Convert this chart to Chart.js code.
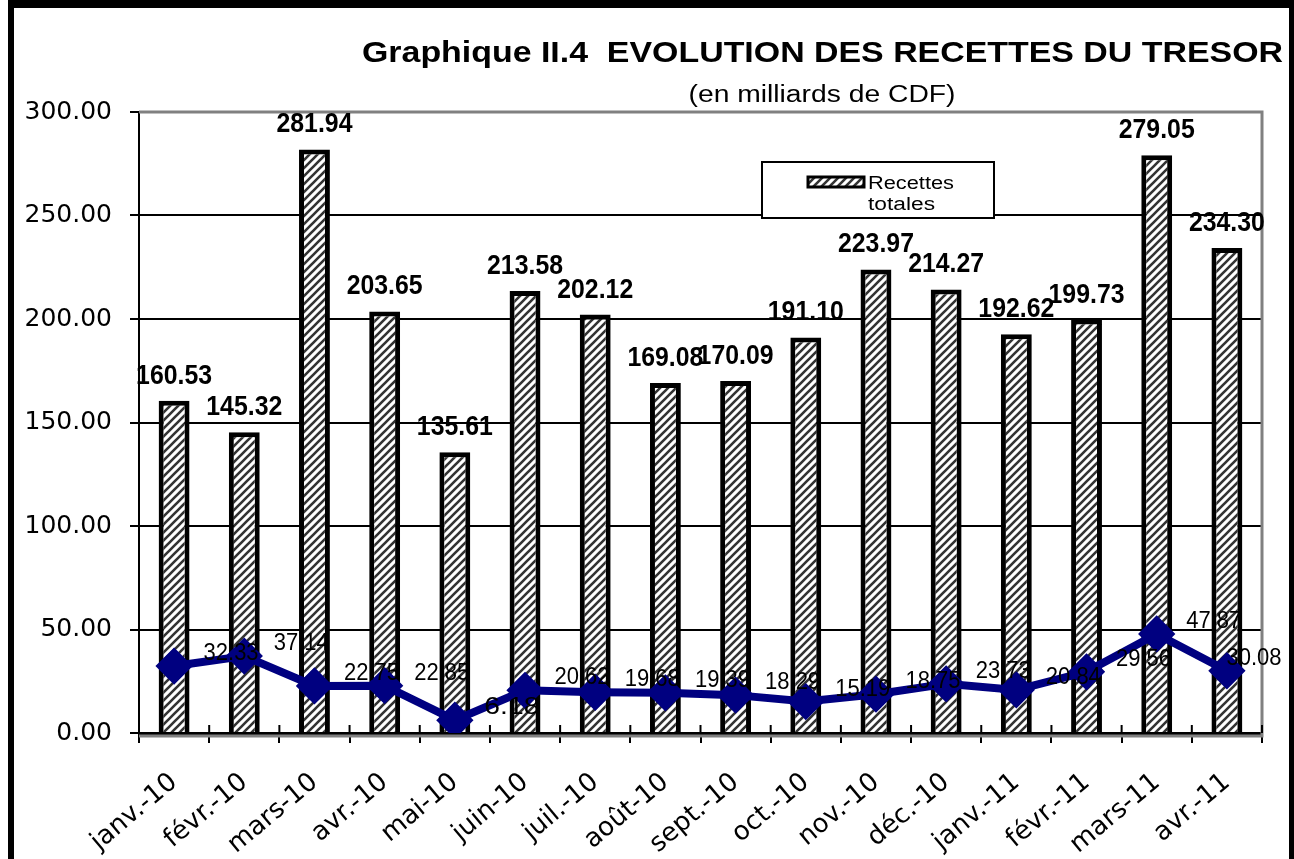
<!DOCTYPE html>
<html>
<head>
<meta charset="utf-8">
<script src="https://cdn.jsdelivr.net/npm/chart.js@4.4.1/dist/chart.umd.min.js"></script>
<style>
  html, body { margin: 0; padding: 0; background: #fff; }
  #wrap { width: 1294px; height: 859px; position: relative; }
</style>
</head>
<body>
<div id="wrap"><canvas id="chart"></canvas></div>
<script>
// données
const mois = ['janv.-10', 'févr.-10', 'mars-10', 'avr.-10', 'mai-10', 'juin-10', 'juil.-10', 'août-10',
              'sept.-10', 'oct.-10', 'nov.-10', 'déc.-10', 'janv.-11', 'févr.-11', 'mars-11', 'avr.-11'];
const recettesTotales = [160.53, 145.32, 281.94, 203.65, 135.61, 213.58, 202.12, 169.08,
                         170.09, 191.10, 223.97, 214.27, 192.62, 199.73, 279.05, 234.30];
const serieLigne = [32.33, 37.14, 22.75, 22.85, 6.18, 20.62, 19.68, 19.39,
                    18.29, 15.19, 18.75, 23.73, 20.84, 29.56, 47.87, 30.08];
const yMin = 0, yMax = 300, yPas = 50;

const titre = 'Graphique II.4  EVOLUTION DES RECETTES DU TRESOR';
const sousTitre = '(en milliards de CDF)';
const legendeTexte = ['Recettes', 'totales'];

// motif hachuré des barres
function hachures() {
    const c = document.createElement('canvas');
    c.width = 8; c.height = 8;
    const g = c.getContext('2d');
    g.fillStyle = '#fff';
    g.fillRect(0, 0, 8, 8);
    g.strokeStyle = '#333';
    g.lineWidth = 2.6;
    g.beginPath();
    g.moveTo(-2, 10); g.lineTo(10, -2);
    g.moveTo(-2, 2); g.lineTo(2, -2);
    g.moveTo(6, 10); g.lineTo(10, 6);
    g.stroke();
    return g.createPattern(c, 'repeat');
}
const motif = hachures();

// texte ajusté à une largeur donnée
function texteLargeur(ctx, txt, x, y, font, largeur, align) {
    ctx.save();
    ctx.font = font;
    const w = ctx.measureText(txt).width;
    const s = largeur ? largeur / w : 1;
    ctx.textBaseline = 'alphabetic';
    ctx.textAlign = 'left';
    let x0 = x;
    if (align === 'right') x0 = x - w * s;
    else if (align === 'center') x0 = x - w * s / 2;
    ctx.translate(x0, y);
    ctx.scale(s, 1);
    ctx.fillText(txt, 0, 0);
    ctx.restore();
}

const cadrePlugin = {
    id: 'cadre',
    beforeDraw(chart) {
        const ctx = chart.ctx;
        ctx.save();
        ctx.fillStyle = '#fff';
        ctx.fillRect(0, 0, chart.width, chart.height);
        ctx.fillStyle = '#000';
        ctx.fillRect(8, 0, chart.width - 8, 8);
        ctx.fillRect(8, 0, 6, chart.height);
        ctx.fillRect(chart.width - 5, 0, 5, chart.height);
        texteLargeur(ctx, titre, 1283, 62, 'bold 30px "Liberation Sans", Arial, sans-serif', 921, 'right');
        texteLargeur(ctx, sousTitre, 822, 102, '23px "Liberation Sans", Arial, sans-serif', 267, 'center');
        ctx.restore();
    },
    beforeDatasetsDraw(chart) {
        const ctx = chart.ctx;
        const a = chart.chartArea;
        ctx.save();
        ctx.strokeStyle = '#808080';
        ctx.lineWidth = 3;
        ctx.beginPath();
        ctx.moveTo(a.left, a.top);
        ctx.lineTo(a.right, a.top);
        ctx.lineTo(a.right, a.bottom + 3);
        ctx.lineTo(a.left, a.bottom + 3);
        ctx.stroke();
        // petites graduations au-dessus de l'axe des x
        const x = chart.scales.x;
        ctx.strokeStyle = '#000';
        ctx.lineWidth = 2;
        ctx.beginPath();
        for (let i = 0; i <= mois.length; i++) {
            const px = x.getPixelForValue(i - 0.5);
            ctx.moveTo(px, a.bottom - 8);
            ctx.lineTo(px, a.bottom);
        }
        ctx.stroke();
        ctx.restore();
    }
};

const etiquettesPlugin = {
    id: 'etiquettes',
    afterDatasetsDraw(chart) {
        const ctx = chart.ctx;
        ctx.save();
        ctx.fillStyle = '#000';
        chart.getDatasetMeta(0).data.forEach((el, i) => {
            texteLargeur(ctx, recettesTotales[i].toFixed(2), el.x, el.y - 17,
                'bold 27px "Liberation Sans", Arial, sans-serif', 76, 'center');
        });
        chart.getDatasetMeta(1).data.forEach((el, i) => {
            const lx = Math.min(el.x + 57, chart.width - 40);
            texteLargeur(ctx, serieLigne[i].toFixed(2), lx, el.y - 6,
                '23px "Liberation Sans", Arial, sans-serif', 55, 'center');
        });
        ctx.restore();
    },
    afterDraw(chart) {
        // légende
        const ctx = chart.ctx;
        ctx.save();
        ctx.fillStyle = '#fff';
        ctx.fillRect(762, 162, 232, 56);
        ctx.strokeStyle = '#000';
        ctx.lineWidth = 2;
        ctx.strokeRect(762, 162, 232, 56);
        ctx.fillStyle = motif;
        ctx.fillRect(808, 177, 56, 10);
        ctx.lineWidth = 3;
        ctx.strokeRect(808, 177, 56, 10);
        ctx.fillStyle = '#000';
        texteLargeur(ctx, legendeTexte[0], 868, 189, '18px "Liberation Sans", Arial, sans-serif', 86, 'left');
        texteLargeur(ctx, legendeTexte[1], 868, 210, '18px "Liberation Sans", Arial, sans-serif', 67, 'left');
        ctx.restore();
    }
};

new Chart(document.getElementById('chart'), {
    data: {
        labels: mois,
        datasets: [{
            type: 'bar',
            label: 'Recettes totales',
            data: recettesTotales,
            backgroundColor: motif,
            borderColor: '#000',
            borderWidth: 5,
            barPercentage: 0.44,
            categoryPercentage: 1.0,
            order: 1
        }, {
            type: 'line',
            label: 'Série 2',
            data: serieLigne,
            borderColor: '#000080',
            borderWidth: 8,
            pointStyle: 'rectRot',
            pointRadius: 13,
            pointBackgroundColor: '#000080',
            pointBorderColor: '#000080',
            tension: 0,
            order: 0
        }]
    },
    options: {
        responsive: true,
        maintainAspectRatio: false,
        animation: false,
        layout: { padding: { top: 112, right: 32, left: 0, bottom: 0 } },
        plugins: {
            legend: { display: false },
            title: { display: false },
            tooltip: { enabled: false }
        },
        scales: {
            x: {
                offset: true,
                grid: { display: true, drawOnChartArea: false, offset: true, color: '#000', lineWidth: 2, tickLength: 10 },
                border: { color: '#000', width: 3 },
                ticks: {
                    color: '#000',
                    font: { family: '"DejaVu Sans", sans-serif', size: 26 },
                    maxRotation: 40,
                    minRotation: 40,
                    autoSkip: false,
                    padding: 24
                },
                afterFit(s) { s.height = 126; }
            },
            y: {
                min: yMin,
                max: yMax,
                grid: { color: '#000', lineWidth: 2, tickLength: 9 },
                border: { color: '#000', width: 2 },
                ticks: {
                    stepSize: yPas,
                    color: '#000',
                    font: { family: '"DejaVu Sans", sans-serif', size: 25 },
                    padding: 18,
                    callback: v => v.toFixed(2)
                },
                afterFit(s) { s.width = 139; }
            }
        }
    },
    plugins: [cadrePlugin, etiquettesPlugin]
});
</script>
</body>
</html>
